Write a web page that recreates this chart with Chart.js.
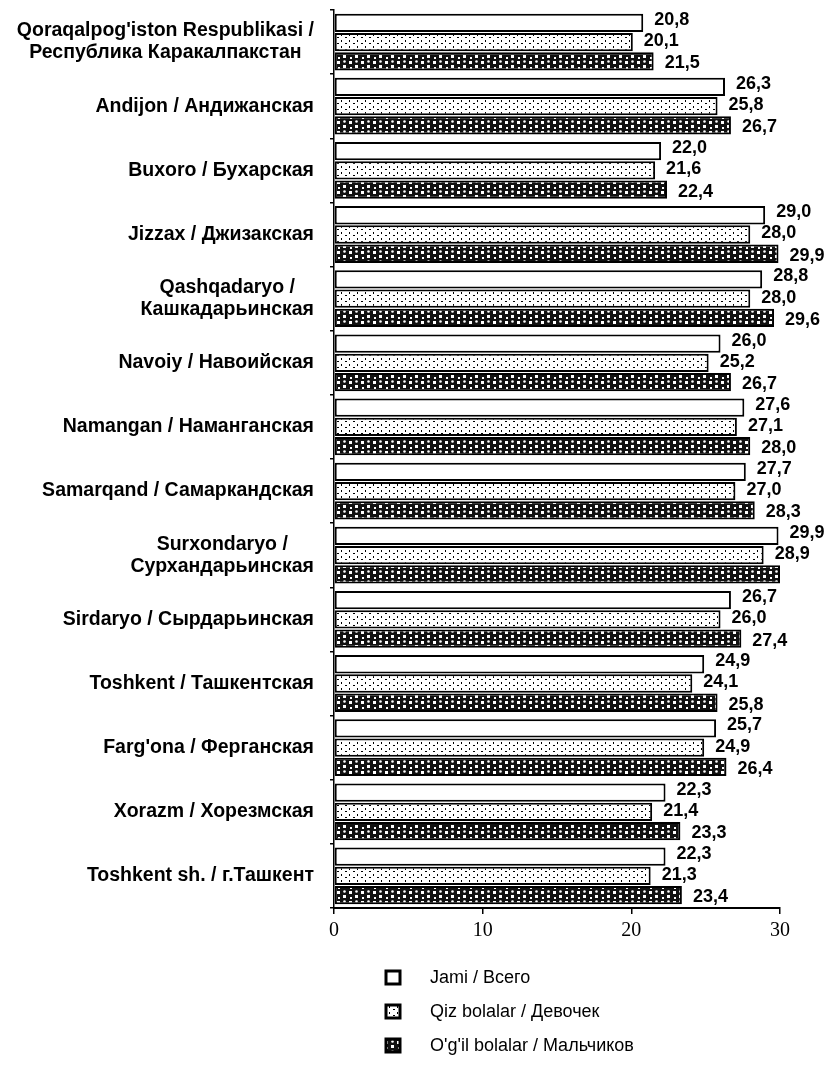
<!DOCTYPE html>
<html>
<head>
<meta charset="utf-8">
<script src="https://cdn.jsdelivr.net/npm/chart.js@4.4.0/dist/chart.umd.min.js"></script>
<style>
  html, body { margin: 0; padding: 0; background: #ffffff; }
  #wrap { width: 832px; height: 1068px; }
</style>
</head>
<body>
<div id="wrap"><canvas id="chart" width="832" height="1068"></canvas></div>
<script>
// regions (top to bottom), two-line labels as arrays
const regions = [
  ["Qoraqalpog'iston Respublikasi /", "Республика Каракалпакстан"],
  ["Andijon / Андижанская"],
  ["Buxoro / Бухарская"],
  ["Jizzax / Джизакская"],
  ["Qashqadaryo /", "Кашкадарьинская"],
  ["Navoiy / Навоийская"],
  ["Namangan / Наманганская"],
  ["Samarqand / Самаркандская"],
  ["Surxondaryo /", "Сурхандарьинская"],
  ["Sirdaryo / Сырдарьинская"],
  ["Toshkent / Ташкентская"],
  ["Farg'ona / Ферганская"],
  ["Xorazm / Хорезмская"],
  ["Toshkent sh. / г.Ташкент"]
];
const jami  = [20.8, 26.3, 22.0, 29.0, 28.8, 26.0, 27.6, 27.7, 29.9, 26.7, 24.9, 25.7, 22.3, 22.3];
const qiz   = [20.1, 25.8, 21.6, 28.0, 28.0, 25.2, 27.1, 27.0, 28.9, 26.0, 24.1, 24.9, 21.4, 21.3];
const ogil  = [21.5, 26.7, 22.4, 29.9, 29.6, 26.7, 28.0, 28.3, 30.0, 27.4, 25.8, 26.4, 23.3, 23.4];
const seriesNames = ["Jami / Всего", "Qiz bolalar / Девочек", "O'g'il bolalar / Мальчиков"];
const xTicks = [0, 10, 20, 30];

// fill patterns
function dotPattern() {
  const c = document.createElement('canvas');
  c.width = 8; c.height = 6;
  const g = c.getContext('2d');
  g.fillStyle = '#fff'; g.fillRect(0, 0, 8, 6);
  g.fillStyle = '#000';
  g.fillRect(1, 1, 2, 1);
  g.fillRect(5, 4, 1, 2);
  return g.createPattern(c, 'repeat');
}
function darkPattern() {
  const c = document.createElement('canvas');
  c.width = 12; c.height = 10;
  const g = c.getContext('2d');
  g.fillStyle = '#111'; g.fillRect(0, 0, 12, 10);
  g.fillStyle = '#fff';
  g.fillRect(1, 1, 3, 3);
  g.fillRect(7, 5, 3, 3);
  g.beginPath(); g.arc(8.5, 1.5, 1.3, 0, Math.PI * 2); g.fill();
  g.fillRect(2, 7, 2, 2);
  return g.createPattern(c, 'repeat');
}
const fills = ['#ffffff', dotPattern(), darkPattern()];

const fmt = v => v.toFixed(1).replace('.', ',');

// value labels at the bar ends
const valueLabels = {
  id: 'valueLabels',
  afterDatasetsDraw(chart) {
    const ctx = chart.ctx;
    const xs = chart.scales.x;
    ctx.save();
    ctx.font = 'bold 18px "Liberation Sans", Arial, sans-serif';
    ctx.fillStyle = '#000';
    ctx.textBaseline = 'middle';
    ctx.textAlign = 'left';
    const dy = [-3, -1, 2];
    chart.data.datasets.forEach((ds, di) => {
      chart.getDatasetMeta(di).data.forEach((bar, i) => {
        const v = ds.data[i];
        if (v >= xs.max) return;
        ctx.fillText(fmt(v), bar.x + 11, bar.y + dy[di]);
      });
    });
    ctx.restore();
  }
};

// category labels, each block centred on its longest line
const regionLabels = {
  id: 'regionLabels',
  afterDraw(chart) {
    const ctx = chart.ctx;
    const ys = chart.scales.y;
    const right = chart.chartArea.left - 20;
    ctx.save();
    ctx.font = 'bold 19.5px "Liberation Sans", Arial, sans-serif';
    ctx.fillStyle = '#000';
    ctx.textAlign = 'center';
    ctx.textBaseline = 'middle';
    regions.forEach((lines, i) => {
      const y = ys.getPixelForValue(i);
      const w = Math.max(...lines.map(t => ctx.measureText(t).width));
      const cx = right - w / 2;
      const lh = 22;
      const top = y - (lines.length - 1) * lh / 2;
      lines.forEach((t, k) => ctx.fillText(t, cx, top + k * lh));
    });
    ctx.restore();
  }
};

// vertical legend under the axis
const bottomLegend = {
  id: 'bottomLegend',
  afterDraw(chart) {
    const ctx = chart.ctx;
    const y0 = chart.chartArea.bottom + 70;
    ctx.save();
    ctx.font = '18px "Liberation Sans", Arial, sans-serif';
    ctx.textBaseline = 'middle';
    ctx.textAlign = 'left';
    chart.data.datasets.forEach((ds, i) => {
      const y = y0 + i * 34;
      ctx.fillStyle = ds.backgroundColor;
      ctx.fillRect(386, y - 7, 14, 13);
      ctx.lineWidth = 3;
      ctx.strokeStyle = '#000';
      ctx.strokeRect(386, y - 7, 14, 13);
      ctx.fillStyle = '#000';
      ctx.fillText(ds.label, 430, y);
    });
    ctx.restore();
  }
};

const series = [jami, qiz, ogil];
new Chart(document.getElementById('chart'), {
  type: 'bar',
  data: {
    labels: regions.map(r => r.join(' ')),
    datasets: series.map((d, i) => ({
      label: seriesNames[i],
      data: d,
      backgroundColor: fills[i],
      borderColor: '#000',
      borderWidth: 2,
      borderSkipped: false,
      categoryPercentage: 0.9,
      barPercentage: 0.95
    }))
  },
  options: {
    indexAxis: 'y',
    responsive: false,
    animation: false,
    layout: { padding: { top: 10, right: 52, bottom: 120, left: 0 } },
    plugins: {
      legend: { display: false },
      tooltip: { enabled: false }
    },
    scales: {
      x: {
        min: 0,
        max: 30,
        afterBuildTicks: s => { s.ticks = xTicks.map(v => ({ value: v })); },
        afterFit: s => { s.height = 40; },
        grid: { display: true, drawOnChartArea: false, tickLength: 6, color: '#000', lineWidth: 1.5 },
        border: { display: true, color: '#000', width: 2 },
        ticks: {
          color: '#000',
          padding: 5,
          font: { family: '"Liberation Serif", "Times New Roman", serif', size: 20 }
        }
      },
      y: {
        afterFit: s => { s.width = 334; },
        grid: { display: true, drawOnChartArea: false, offset: true, tickLength: 4, color: '#000', lineWidth: 1.5 },
        border: { display: true, color: '#000', width: 1.5 },
        ticks: { display: false }
      }
    }
  },
  plugins: [valueLabels, regionLabels, bottomLegend]
});
</script>
</body>
</html>
